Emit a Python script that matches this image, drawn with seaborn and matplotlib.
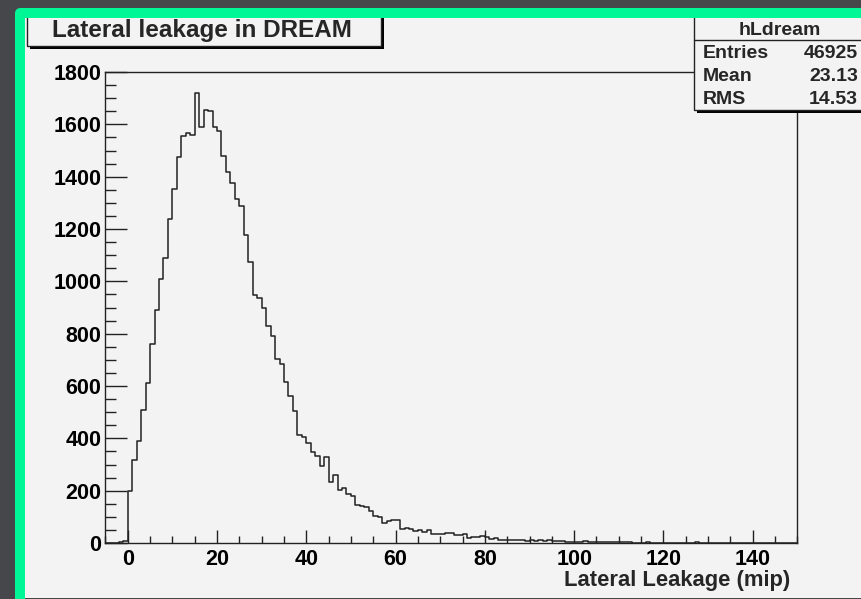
import numpy as np
import pandas as pd
import matplotlib
matplotlib.use("Agg")
import matplotlib.pyplot as plt
import seaborn as sns
from matplotlib.patches import Rectangle
from matplotlib.lines import Line2D
from matplotlib.ticker import MultipleLocator

# histogram hLdream: one bin per unit, lower edges from -5 to 149
bin_start = list(range(-5, 150))
counts = [
    0, 0, 1, 2, 8,                                              # -5 .. -1
    200, 319, 390, 508, 612, 761, 892, 1008, 1088, 1237,        # 0 .. 9
    1352, 1476, 1556, 1566, 1560, 1718, 1591, 1656, 1652, 1591,  # 10 .. 19
    1575, 1480, 1418, 1376, 1316, 1287, 1178, 1074, 947, 936,   # 20 .. 29
    898, 831, 792, 703, 684, 615, 561, 503, 413, 405,           # 30 .. 39
    382, 347, 334, 293, 327, 233, 260, 201, 210, 187,           # 40 .. 49
    181, 146, 140, 137, 124, 104, 98, 76, 83, 86,               # 50 .. 59
    86, 53, 57, 53, 44, 51, 43, 51, 36, 36,                     # 60 .. 69
    34, 38, 38, 29, 30, 34, 19, 23, 23, 27,                     # 70 .. 79
    22, 15, 18, 13, 13, 12, 12, 10, 10, 6,                      # 80 .. 89
    10, 6, 12, 6, 10, 6, 6, 8, 4, 4,                            # 90 .. 99
    4, 4, 9, 3, 2, 3, 2, 2, 5, 2,                               # 100 .. 109
    4, 4, 2, 0, 0, 0, 4, 1, 0, 0,                               # 110 .. 119
    1, 0, 0, 0, 0, 0, 1, 4, 1, 0,                               # 120 .. 129
]
counts = counts + [0] * (len(bin_start) - len(counts))

title = "Lateral leakage in DREAM"
hist_name = "hLdream"
stat_names = ["Entries", "Mean", "RMS"]
stat_values = ["46925", "23.13", "14.53"]
x_label = "Lateral Leakage (mip)"

W, H = 862, 599


def fx(p):
    return p / W


def fy(p):
    return 1 - p / H


def main():
    sns.set_style("ticks")
    plt.rcParams["font.family"] = ["Liberation Sans", "DejaVu Sans"]
    plt.rcParams["font.weight"] = "bold"
    plt.rcParams["axes.labelweight"] = "bold"

    fig = plt.figure(figsize=(W / 100, H / 100), dpi=100, facecolor="#45474a")

    # light canvas inside the green frame
    fig.add_artist(Rectangle((fx(25), fy(598)), fx(900) - fx(25), fy(18) - fy(598),
                             transform=fig.transFigure, facecolor="#f3f3f3",
                             edgecolor="none", zorder=-5))

    ax = fig.add_axes([fx(105.4), fy(543), fx(797.4) - fx(105.4), fy(72) - fy(543)])
    ax.set_facecolor("#f3f3f3")

    df = pd.DataFrame({"x": np.array(bin_start) + 0.5, "n": counts})
    sns.histplot(data=df, x="x", weights="n", binwidth=1, binrange=(-5, 150),
                 element="step", fill=False, color="#222222", linewidth=1.1, ax=ax)

    ax.set_xlim(-5, 150)
    ax.set_ylim(0, 1800)
    ax.xaxis.set_major_locator(MultipleLocator(20))
    ax.xaxis.set_minor_locator(MultipleLocator(5))
    ax.yaxis.set_major_locator(MultipleLocator(200))
    ax.yaxis.set_minor_locator(MultipleLocator(50))
    ax.tick_params(which="both", direction="in", top=False, right=False,
                   width=1, color="#222222", labelsize=15.5, labelcolor="black")
    ax.tick_params(axis="y", which="major", length=15.8, pad=3)
    ax.tick_params(axis="y", which="minor", length=7.9)
    ax.tick_params(axis="x", which="major", length=9.4, pad=4)
    ax.tick_params(axis="x", which="minor", length=5)
    for s in ax.spines.values():
        s.set_linewidth(1)
        s.set_color("#222222")
    ax.set_ylabel("")
    ax.set_xlabel(x_label, fontsize=15.8, ha="right")
    ax.xaxis.set_label_coords((790 - 105.4) / 692.0, (543 - 570) / 471.0)

    # title pave with shadow
    fig.add_artist(Rectangle((fx(30), fy(49)), fx(384) - fx(30), fy(13) - fy(49),
                             transform=fig.transFigure, facecolor="black",
                             edgecolor="none", zorder=3))
    fig.add_artist(Rectangle((fx(27), fy(46)), fx(381) - fx(27), fy(10) - fy(46),
                             transform=fig.transFigure, facecolor="#f3f3f3",
                             edgecolor="#222222", linewidth=1, zorder=3.1))
    fig.text(fx(52), fy(37.5), title, fontsize=17.5, ha="left", va="baseline", zorder=6)

    # stats box with shadow
    fig.add_artist(Rectangle((fx(697), fy(113)), fx(900) - fx(697), fy(13) - fy(113),
                             transform=fig.transFigure, facecolor="black",
                             edgecolor="none", zorder=3))
    fig.add_artist(Rectangle((fx(694), fy(110)), fx(900) - fx(694), fy(10) - fy(110),
                             transform=fig.transFigure, facecolor="#f3f3f3",
                             edgecolor="#222222", linewidth=1, zorder=3.1))
    fig.add_artist(Line2D([fx(694), fx(862)], [fy(40), fy(40)],
                          transform=fig.transFigure, color="#222222", lw=1, zorder=3.2))
    fig.text(fx(780), fy(35), hist_name, fontsize=14, ha="center", va="baseline", zorder=6)
    for i, (name, val) in enumerate(zip(stat_names, stat_values)):
        yb = 57.5 + i * 23.2
        fig.text(fx(703), fy(yb), name, fontsize=14, ha="left", va="baseline", zorder=6)
        fig.text(fx(858), fy(yb), val, fontsize=14, ha="right", va="baseline", zorder=6)

    # green frame drawn last so it hides the top edges of the boxes
    fig.add_artist(Rectangle((fx(20), fy(604)), fx(930) - fx(20), fy(13) - fy(604),
                             transform=fig.transFigure, facecolor="none",
                             edgecolor="#00f796", linewidth=7.2, joinstyle="round",
                             zorder=8))

    fig.savefig("out.png", dpi=100, facecolor=fig.get_facecolor())


if __name__ == "__main__":
    main()
